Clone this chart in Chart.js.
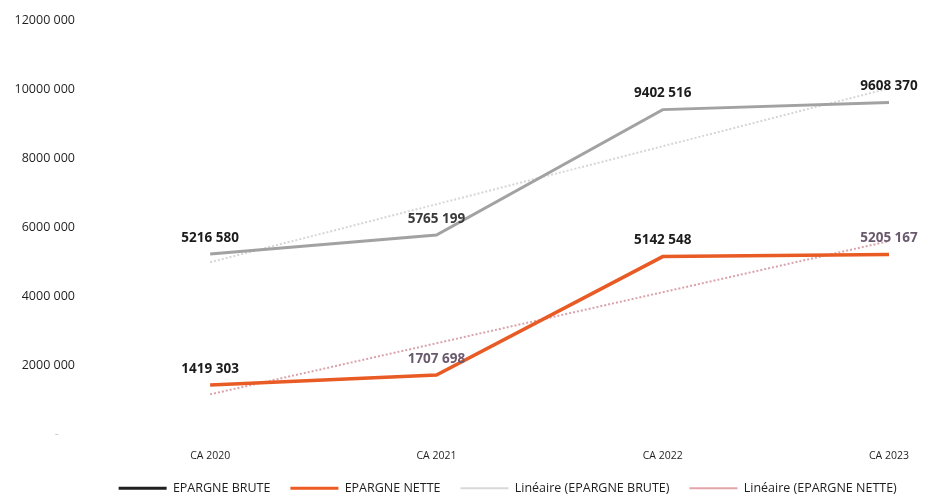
<!DOCTYPE html>
<html lang="fr">
<head>
<meta charset="utf-8">
<title>Epargne brute / nette</title>
<script src="https://cdn.jsdelivr.net/npm/chart.js@4.4.1/dist/chart.umd.min.js"></script>
<style>
  html, body { margin: 0; padding: 0; background: #fff; }
  #wrap { width: 925px; height: 501px; position: relative; }
</style>
</head>
<body>
<div id="wrap"><canvas id="myChart"></canvas></div>
<script>
// categories + series
const categories = ['CA 2020', 'CA 2021', 'CA 2022', 'CA 2023'];
const epargneBrute = [5216580, 5765199, 9402516, 9608370];
const epargneNette = [1419303, 1707698, 5142548, 5205167];
// linear trend lines (Excel "Linéaire")
const lineaireBrute = [4980000, 6660000, 8340000, 10020000];
const lineaireNette = [1150000, 2630000, 4110000, 5590000];
const yTicks = [0, 2000000, 4000000, 6000000, 8000000, 10000000, 12000000];

const FONT = "'Open Sans', 'Liberation Sans', sans-serif";

// "5216 580" style numbers
function fmt(v) {
  return Math.floor(v / 1000) + ' ' + String(v % 1000).padStart(3, '0');
}

const pts = arr => arr.map((v, i) => ({ x: i, y: v }));

// value labels above the two main series
const labelColors = [
  ['#1c1c1c', '#3a3a3a', '#1c1c1c', '#1c1c1c'],
  ['#1c1c1c', '#6a5a6e', '#1c1c1c', '#6a5a6e']
];
const valueLabels = {
  id: 'valueLabels',
  afterDatasetsDraw(chart) {
    const ctx = chart.ctx;
    ctx.save();
    ctx.font = 'bold 13.5px ' + FONT;
    ctx.textAlign = 'center';
    ctx.textBaseline = 'middle';
    [0, 1].forEach(di => {
      const meta = chart.getDatasetMeta(di);
      const vals = chart.data.datasets[di].data;
      meta.data.forEach((el, i) => {
        ctx.fillStyle = labelColors[di][i];
        ctx.fillText(fmt(vals[i].y), el.x, el.y - 16);
      });
    });
    ctx.restore();
  }
};

const legendColors = ['#1f1f1f', '#ee5a24', '#d9d9d9', '#e3a4aa'];

var ctx = document.getElementById('myChart').getContext('2d');
var chart = new Chart(ctx, {
  type: 'line',
  data: {
    datasets: [
      {
        label: 'EPARGNE BRUTE',
        data: pts(epargneBrute),
        borderColor: '#a2a2a2',
        borderWidth: 3,
        pointRadius: 0,
        tension: 0
      },
      {
        label: 'EPARGNE NETTE',
        data: pts(epargneNette),
        borderColor: '#e95b25',
        borderWidth: 3.5,
        pointRadius: 0,
        tension: 0
      },
      {
        label: 'Linéaire (EPARGNE BRUTE)',
        data: pts(lineaireBrute),
        borderColor: '#d6d6d6',
        borderWidth: 2,
        borderDash: [2, 2],
        pointRadius: 0
      },
      {
        label: 'Linéaire (EPARGNE NETTE)',
        data: pts(lineaireNette),
        borderColor: '#d9a3ab',
        borderWidth: 2,
        borderDash: [2, 2],
        pointRadius: 0
      }
    ]
  },
  options: {
    responsive: true,
    maintainAspectRatio: false,
    animation: false,
    layout: { padding: { top: 20, left: 0, right: 0, bottom: -3.5 } },
    scales: {
      x: {
        type: 'linear',
        min: -0.5,
        max: 3.13,
        grid: { display: false, drawTicks: false },
        border: { display: false },
        afterBuildTicks(scale) {
          scale.ticks = categories.map((c, i) => ({ value: i }));
        },
        afterFit(scale) { scale.height = 28; },
        ticks: {
          autoSkip: false,
          maxRotation: 0,
          padding: 16,
          color: '#1f1f1f',
          font: { family: FONT, size: 10.5 },
          callback: v => categories[v]
        }
      },
      y: {
        min: 0,
        max: 12000000,
        grid: { display: false, drawTicks: false },
        border: { display: false },
        afterBuildTicks(scale) {
          scale.ticks = yTicks.map(v => ({ value: v }));
        },
        // wide label gap, but keep the plot top/bottom tight
        afterFit(scale) {
          scale.width = 97;
          scale.paddingTop = 8;
          scale.paddingBottom = 8;
        },
        ticks: {
          padding: 22,
          color: c => c.tick && c.tick.value === 0 ? '#c8c8c8' : '#1f1f1f',
          font: { family: FONT, size: 12.5 },
          callback: v => v === 0 ? '-     ' : fmt(v)
        }
      }
    },
    plugins: {
      tooltip: { enabled: false },
      legend: {
        position: 'bottom',
        fullSize: false,
        labels: {
          usePointStyle: true,
          pointStyle: 'line',
          pointStyleWidth: 48,
          boxHeight: 12,
          padding: 20,
          color: '#1f1f1f',
          font: { family: FONT, size: 12.5 },
          generateLabels(chart) {
            const items = Chart.defaults.plugins.legend.labels.generateLabels(chart);
            items.forEach((it, i) => {
              it.strokeStyle = legendColors[i];
              it.fillStyle = legendColors[i];
              it.lineWidth = i < 2 ? 3 : 2;
            });
            return items;
          }
        }
      }
    }
  },
  plugins: [valueLabels]
});
</script>
</body>
</html>
